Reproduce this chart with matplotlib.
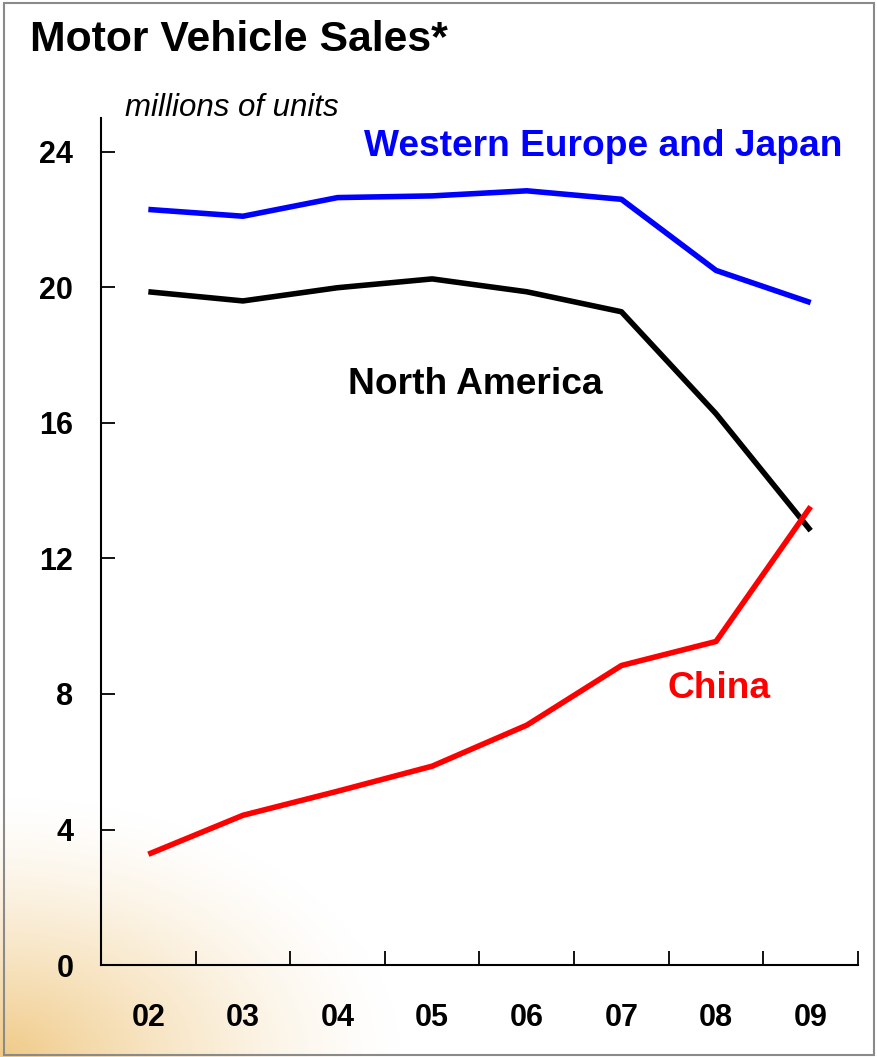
import matplotlib.pyplot as plt
import numpy as np
from matplotlib.patches import Rectangle

years = ['02', '03', '04', '05', '06', '07', '08', '09']
west_europe_japan = [22.3, 22.1, 22.65, 22.7, 22.85, 22.6, 20.5, 19.55]
north_america = [19.87, 19.6, 19.99, 20.25, 19.87, 19.28, 16.27, 12.82]
china = [3.27, 4.42, 5.13, 5.87, 7.08, 8.84, 9.55, 13.53]
yticks = [0, 4, 8, 12, 16, 20, 24]

bold = dict(family=['Liberation Sans', 'DejaVu Sans'], weight='bold')

fig = plt.figure(figsize=(8.77, 10.57), dpi=100)

# soft orange glow in the lower left corner
bg = fig.add_axes([0, 0, 1, 1], zorder=0)
h, w = 1057, 877
yy, xx = np.mgrid[0:h, 0:w]
d = np.sqrt((xx / 400.0) ** 2 + ((h - yy) / 260.0) ** 2)
a = np.clip(1.0 - d, 0, 1) ** 1.4
img = np.ones((h, w, 3))
tint = np.array([240, 202, 135]) / 255.0
img = img * (1 - a[..., None]) + tint * a[..., None]
bg.imshow(img, extent=[0, 1, 0, 1], aspect='auto', origin='upper')
bg.set_xlim(0, 1)
bg.set_ylim(0, 1)
bg.axis('off')
bg.add_patch(Rectangle((0.004, 0.002), 0.993, 0.995, fill=False,
                       edgecolor='#8a8a8a', linewidth=1.5))

ax = fig.add_axes([0.1152, 0.0870, 0.8631, 0.8014], zorder=1)
ax.patch.set_alpha(0)
x = np.arange(len(years))
ax.plot(x, west_europe_japan, color='#0000ff', lw=4.0, solid_capstyle='butt')
ax.plot(x, north_america, color='black', lw=4.0, solid_capstyle='butt')
ax.plot(x, china, color='#ff0000', lw=4.0, solid_capstyle='butt')

ax.set_xlim(-0.5, len(years) - 0.5)
ax.set_ylim(0, 25)
ax.set_yticks(yticks)
ax.set_yticklabels([str(t) for t in yticks], **bold, fontsize=22)
ax.set_xticks(x)
ax.set_xticklabels(years, **bold, fontsize=22)
ax.set_xticks(np.arange(-0.5, len(years)), minor=True)
ax.tick_params(axis='x', which='major', length=0, pad=27)
ax.tick_params(axis='x', which='minor', direction='in', length=10, width=1.3)
ax.tick_params(axis='y', direction='in', length=10, width=1.3, pad=20)
for s in ['top', 'right']:
    ax.spines[s].set_visible(False)
for s in ['left', 'bottom']:
    ax.spines[s].set_linewidth(1.5)

ax.text(4.81, 24.17, 'Western Europe and Japan', color='#0000ff', fontsize=26.7,
        ha='center', va='center', **bold)
ax.text(3.46, 17.13, 'North America', color='black', fontsize=26.7,
        ha='center', va='center', **bold)
ax.text(6.03, 8.17, 'China', color='#ff0000', fontsize=26.7,
        ha='center', va='center', **bold)

fig.text(0.034, 0.952, 'Motor Vehicle Sales*', fontsize=30.8, ha='left',
         va='baseline', **bold)
fig.text(0.142, 0.890, 'millions of units', fontsize=22.5, style='italic',
         family=['Liberation Sans', 'DejaVu Sans'], ha='left', va='baseline')

fig.savefig('out.png', dpi=100)
